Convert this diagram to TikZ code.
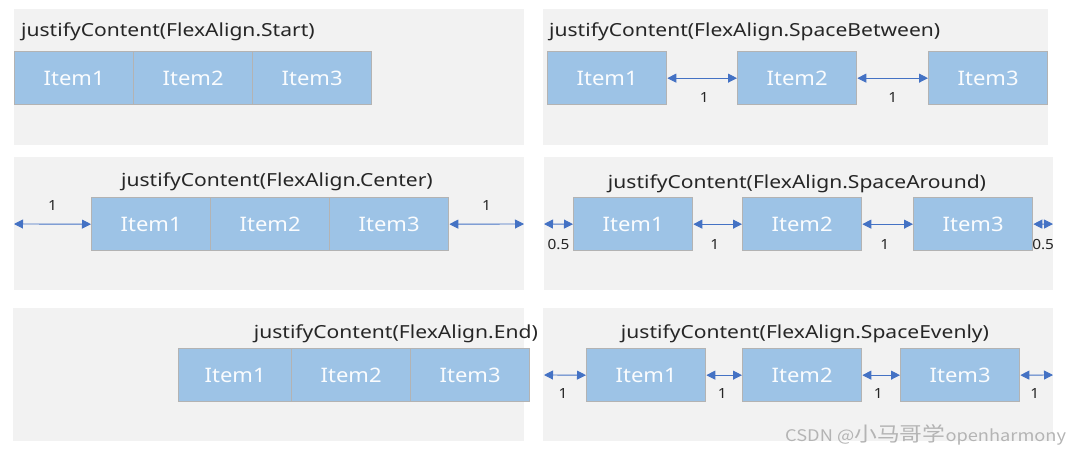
\documentclass[tikz,border=0pt]{standalone}
\usepackage{fontspec}
\setmainfont{Noto Sans}
\newfontfamily\ttlfont{Noto Sans}[FakeStretch=1.17]
\newfontfamily\itemfont{Noto Sans}[FakeStretch=1.1]
\newfontfamily\cjk{Noto Sans CJK SC}
\usetikzlibrary{arrows.meta}
\definecolor{panelbg}{HTML}{F2F2F2}
\definecolor{itemfill}{HTML}{9DC3E6}
\definecolor{itemline}{HTML}{B3B3B3}
\definecolor{arrblue}{HTML}{4472C4}
\definecolor{wm}{HTML}{B4B4B4}
\tikzset{
  panel/.style={fill=panelbg, draw=none},
  item/.style={fill=itemfill, draw=itemline, line width=1.3pt, inner sep=0pt,
    minimum width=119pt, minimum height=53pt, anchor=north west,
    text=white!95!itemfill, font=\itemfont\fontsize{20}{24}\selectfont},
  ttl/.style={inner sep=0pt, text=black!85, font=\ttlfont\fontsize{18}{22}\selectfont},
  arr/.style={draw=arrblue, line width=0.9pt, {Triangle[length=9pt,width=9pt]}-{Triangle[length=9pt,width=9pt]}},
  lab/.style={inner sep=0pt, text=black!85, font=\itemfont\fontsize{14}{16}\selectfont},
}
\begin{document}
\begin{tikzpicture}[x=1pt, y=-1pt]
\useasboundingbox (0,0) rectangle (1069,452);
% panels
\path[panel] (14,9) rectangle (524,145);
\path[panel] (543,9) rectangle (1048,145);
\path[panel] (14,157) rectangle (524,290);
\coordinate (p3w) at (14,224);
\coordinate (p3e) at (524,224);
\path[panel] (544,157) rectangle (1053,290);
\coordinate (p4w) at (544,224);
\coordinate (p4e) at (1053,224);
\path[panel] (13,308) rectangle (524,441);
\path[panel] (543,308) rectangle (1053,441);
\coordinate (p6w) at (544,375);
\coordinate (p6e) at (1053,375);

% Panel 1: Start
\node[ttl, anchor=base west] (t1) at (21,37) {justifyContent(FlexAlign.Start)};
\node[item] (a1) at (14,51) {Item1};
\node[item] (a2) at (133,51) {Item2};
\node[item] (a3) at (252,51) {Item3};

% Panel 2: SpaceBetween
\node[ttl, anchor=base west] (t2) at (549,37) {justifyContent(FlexAlign.SpaceBetween)};
\node[item] (b1) at (547,51) {Item1};
\node[item] (b2) at (737,51) {Item2};
\node[item] (b3) at (928,51) {Item3};
\draw[arr] (b1.east) -- node[midway, lab, yshift=-19pt, xshift=2pt] {1} (b2.west);
\draw[arr] (b2.east) -- node[midway, lab, yshift=-19pt] {1} (b3.west);

% Panel 3: Center
\node[ttl, anchor=base] (t3) at (277,186) {justifyContent(FlexAlign.Center)};
\node[item] (c1) at (91,197) {Item1};
\node[item] (c2) at (210,197) {Item2};
\node[item] (c3) at (329,197) {Item3};
\draw[arr] (p3w) -- node[midway, lab, yshift=19pt] {1} (c1.west);
\draw[arr] (c3.east) -- node[midway, lab, yshift=19pt] {1} (p3e);

% Panel 4: SpaceAround
\node[ttl, anchor=base] (t4) at (797,188) {justifyContent(FlexAlign.SpaceAround)};
\node[item] (d1) at (573,197) {Item1};
\node[item] (d2) at (742,197) {Item2};
\node[item] (d3) at (913,197) {Item3};
\draw[arr] (p4w) -- node[midway, lab, yshift=-20pt] {0.5} (d1.west);
\draw[arr] (d1.east) -- node[midway, lab, yshift=-20pt, xshift=-3pt] {1} (d2.west);
\draw[arr] (d2.east) -- node[midway, lab, yshift=-20pt, xshift=-3pt] {1} (d3.west);
\draw[arr] (d3.east) -- node[midway, lab, yshift=-20pt] {0.5} (p4e);

% Panel 5: End
\node[ttl, anchor=base east] (t5) at (538,338) {justifyContent(FlexAlign.End)};
\node[item, minimum width=113pt] (e1) at (178,348) {Item1};
\node[item] (e2) at (291,348) {Item2};
\node[item] (e3) at (410,348) {Item3};

% Panel 6: SpaceEvenly
\node[ttl, anchor=base] (t6) at (805,338) {justifyContent(FlexAlign.SpaceEvenly)};
\node[item] (f1) at (586,348) {Item1};
\node[item] (f2) at (742,348) {Item2};
\node[item] (f3) at (900,348) {Item3};
\draw[arr] (p6w) -- node[midway, lab, yshift=-18pt, xshift=-2pt] {1} (f1.west);
\draw[arr] (f1.east) -- node[midway, lab, yshift=-18pt, xshift=-2pt] {1} (f2.west);
\draw[arr] (f2.east) -- node[midway, lab, yshift=-18pt, xshift=-3pt] {1} (f3.west);
\draw[arr] (f3.east) -- node[midway, lab, yshift=-18pt, xshift=-2pt] {1} (p6e);

% watermark
\node[inner sep=0pt, anchor=base west, text=wm] (wmk) at (785,441) {\scalebox{1.14}[1]{\cjk\fontsize{16}{18}\selectfont CSDN @{\fontsize{20}{20}\selectfont 小马哥学}openharmony}};
\end{tikzpicture}
\end{document}
